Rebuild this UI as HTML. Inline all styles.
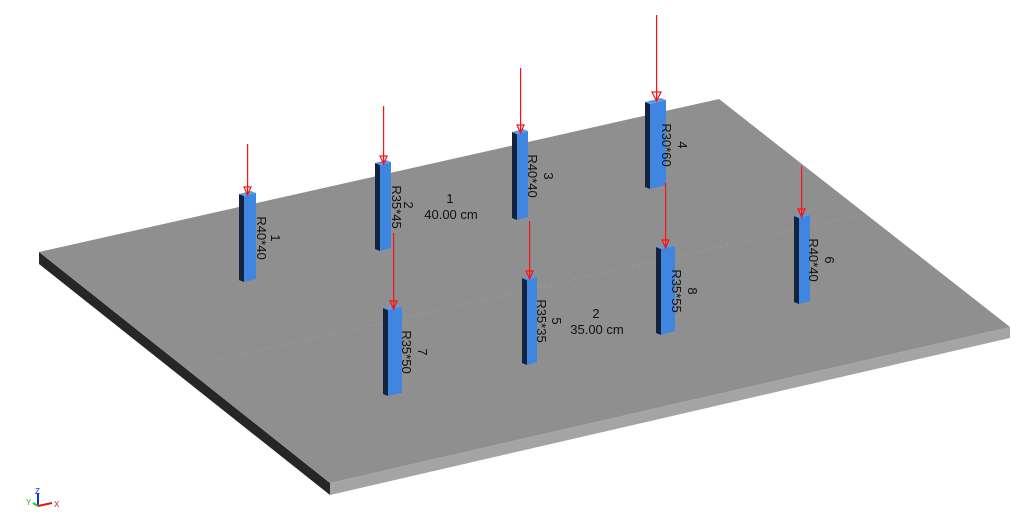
<!DOCTYPE html>
<html><head><meta charset="utf-8"><style>
html,body{margin:0;padding:0;background:#fff;width:1023px;height:525px;overflow:hidden}
svg{display:block}
text{font-family:"Liberation Sans",sans-serif;fill:#111}
</style></head><body>
<svg width="1023" height="525" viewBox="0 0 1023 525" xmlns="http://www.w3.org/2000/svg">
<!-- slab -->
<polygon points="39,252 39,264 330,495 330,483" fill="#262626"/>
<polygon points="330,483 1010,327 1010,338 330,495" fill="#a4a4a4"/>
<polygon points="39,252 719,99 1010,327 330,483" fill="#8f8f8f"/>
<line x1="187" y1="367" x2="860" y2="215" stroke="#999" stroke-width="1" stroke-dasharray="3,3"/>

<!-- columns -->
<polygon points="239,194 244,196 244,282 239,280" fill="#13233d"/><polygon points="244,196 256,193 256,279 244,282" fill="#3f86e0"/><polygon points="239,194 251,191 256,193 244,196" fill="#5a9ae8"/>
<polygon points="375,163 380,165 380,251 375,249" fill="#13233d"/><polygon points="380,165 391,162 391,248 380,251" fill="#3f86e0"/><polygon points="375,163 386,160 391,162 380,165" fill="#5a9ae8"/>
<polygon points="383,308 388,310 388,396 383,394" fill="#13233d"/><polygon points="388,310 402,307 402,393 388,396" fill="#3f86e0"/><polygon points="383,308 397,305 402,307 388,310" fill="#5a9ae8"/>
<polygon points="512,132 517,134 517,220 512,218" fill="#13233d"/><polygon points="517,134 528,131 528,217 517,220" fill="#3f86e0"/><polygon points="512,132 523,129 528,131 517,134" fill="#5a9ae8"/>
<polygon points="645,102 650,104 650,189 645,187" fill="#13233d"/><polygon points="650,104 666,100 666,185 650,189" fill="#3f86e0"/><polygon points="645,102 661,98 666,100 650,104" fill="#5a9ae8"/>
<polygon points="522,278 527,280 527,365 522,363" fill="#13233d"/><polygon points="527,280 537,277 537,362 527,365" fill="#3f86e0"/><polygon points="522,278 532,275 537,277 527,280" fill="#5a9ae8"/>
<polygon points="656,247 661,249 661,335 656,333" fill="#13233d"/><polygon points="661,249 675,246 675,331 661,335" fill="#3f86e0"/><polygon points="656,247 670,244 675,246 661,249" fill="#5a9ae8"/>
<polygon points="794,216 799,218 799,304 794,302" fill="#13233d"/><polygon points="799,218 810,215 810,301 799,304" fill="#3f86e0"/><polygon points="794,216 805,213 810,215 799,218" fill="#5a9ae8"/>

<!-- load arrows -->
<g fill="#ff1010">
<rect x="247" y="144" width="1.2" height="50"/>
<rect x="383" y="106" width="1.2" height="57"/>
<rect x="393" y="233" width="1.2" height="75"/>
<rect x="520" y="68" width="1.2" height="64"/>
<rect x="656" y="15" width="1.2" height="86"/>
<rect x="529" y="221" width="1.2" height="57"/>
<rect x="665" y="183" width="1.2" height="64"/>
<rect x="801" y="166" width="1.2" height="50"/>
</g>
<g fill="none" stroke="#ff1010" stroke-width="1.2">
<path d="M244,187 L251,187 L247.6,195 Z"/>
<path d="M380,156 L387,156 L383.6,164 Z"/>
<path d="M390,301 L397,301 L393.6,309 Z"/>
<path d="M517,125 L524,125 L520.6,133 Z"/>
<path d="M652,92 L661,92 L656.6,101 Z"/>
<path d="M526,271 L533,271 L529.6,279 Z"/>
<path d="M662,240 L669,240 L665.6,248 Z"/>
<path d="M798,209 L805,209 L801.6,217 Z"/>
</g>

<!-- column labels rotated -->
<g font-size="13" text-anchor="middle">
<text transform="translate(257,238) rotate(90)">R40*40</text>
<text transform="translate(271,238) rotate(90)">1</text>
<text transform="translate(392,207) rotate(90)">R35*45</text>
<text transform="translate(404,205) rotate(90)">2</text>
<text transform="translate(402,352) rotate(90)">R35*50</text>
<text transform="translate(418,352) rotate(90)">7</text>
<text transform="translate(528,176) rotate(90)">R40*40</text>
<text transform="translate(544,176) rotate(90)">3</text>
<text transform="translate(662,145) rotate(90)">R30*60</text>
<text transform="translate(678,145) rotate(90)">4</text>
<text transform="translate(537,321) rotate(90)">R35*35</text>
<text transform="translate(552,321) rotate(90)">5</text>
<text transform="translate(672,291) rotate(90)">R35*55</text>
<text transform="translate(688,291) rotate(90)">8</text>
<text transform="translate(809,260) rotate(90)">R40*40</text>
<text transform="translate(825,260) rotate(90)">6</text>
</g>

<!-- slab labels -->
<g font-size="13" text-anchor="middle">
<text x="450" y="203">1</text>
<text x="451" y="219">40.00 cm</text>
<text x="596" y="318">2</text>
<text x="597" y="334">35.00 cm</text>
</g>

<!-- axis icon -->
<g>
<line x1="38" y1="506" x2="38" y2="493" stroke="#1030e0" stroke-width="2"/>
<text x="35" y="494" font-size="8" style="fill:#1030e0">Z</text>
<line x1="38" y1="506" x2="52" y2="503" stroke="#f01010" stroke-width="2"/>
<text x="54" y="507" font-size="8" style="fill:#c02020">X</text>
<line x1="38" y1="506" x2="33" y2="503" stroke="#20d020" stroke-width="2"/>
<text x="26" y="505" font-size="8" style="fill:#20b020">Y</text>
</g>
</svg>
</body></html>
